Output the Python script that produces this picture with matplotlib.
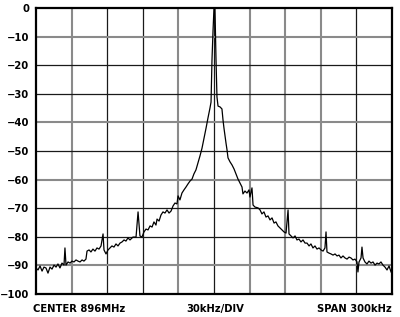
import matplotlib
matplotlib.use("Agg")
import matplotlib.pyplot as plt

# spectrum trace: offset from center (kHz), level (dB)
freq_khz = [
    -150.0, -148.3, -146.6, -144.9, -143.3, -141.6, -139.9, -138.2, -136.5, -134.8,
    -133.1, -131.5, -129.8, -128.1, -126.4, -125.6, -124.7, -123.0, -121.3, -119.7,
    -118.0, -116.3, -114.6, -112.9, -111.2, -109.6, -107.9, -107.0, -105.3, -103.7,
    -102.0, -100.3, -98.6, -96.9, -95.2, -93.5, -92.7, -91.0, -89.3, -87.6,
    -86.0, -84.3, -82.6, -80.9, -79.2, -77.5, -75.8, -74.2, -72.5, -70.8,
    -68.3, -65.7, -64.0, -62.4, -60.7, -59.0, -57.3, -55.6, -53.9, -52.2,
    -50.6, -48.9, -48.0, -46.3, -44.7, -43.0, -41.3, -39.6, -37.9, -36.2,
    -34.5, -32.9, -31.2, -30.3, -28.7, -27.0, -25.3, -23.6, -21.9, -20.2,
    -18.5, -16.9, -15.2, -13.5, -11.8, -10.1, -8.4, -6.7, -5.1, -3.4,
    -2.5, -1.7, -0.8, 0.0, 0.8, 1.7, 2.5, 3.4, 5.1, 6.7,
    7.6, 8.4, 9.3, 10.1, 11.0, 11.8, 13.5, 15.2, 16.9, 18.5,
    20.2, 21.9, 23.6, 24.4, 26.1, 27.8, 29.5, 30.3, 32.0, 32.9,
    34.5, 37.1, 38.8, 40.4, 42.1, 43.8, 45.5, 47.2, 48.9, 50.6,
    52.2, 53.9, 55.6, 57.3, 59.0, 60.7, 62.4, 63.2, 64.9, 66.6,
    68.3, 69.9, 71.6, 73.3, 75.0, 76.7, 78.4, 80.1, 81.7, 83.4,
    85.1, 86.8, 88.5, 90.2, 91.9, 93.5, 94.4, 95.2, 96.9, 98.6,
    100.3, 102.0, 103.7, 105.3, 107.0, 108.7, 110.4, 112.1, 113.8, 115.4,
    117.1, 118.8, 120.5, 121.3, 122.2, 123.9, 124.7, 125.6, 127.2, 128.9,
    130.6, 132.3, 134.0, 135.7, 137.4, 139.0, 140.7, 142.4, 144.1, 145.8,
    147.5, 149.2,
]
level_db = [
    -90.9, -91.6, -90.2, -92.0, -90.6, -90.9, -92.7, -90.6, -91.3, -89.9,
    -90.6, -89.5, -90.9, -89.2, -89.9, -83.9, -89.9, -88.8, -89.2, -88.5,
    -88.8, -88.1, -88.5, -88.8, -88.1, -88.5, -87.8, -85.0, -84.6, -85.3,
    -84.3, -85.0, -83.9, -84.3, -83.2, -79.0, -84.6, -86.0, -84.6, -83.9,
    -83.2, -83.6, -82.5, -83.2, -82.2, -81.8, -81.1, -81.5, -80.4, -81.1,
    -80.1, -80.1, -71.3, -79.7, -80.1, -78.3, -77.3, -77.6, -76.2, -76.6,
    -74.8, -75.9, -73.8, -74.5, -72.4, -71.3, -71.7, -70.6, -71.7, -71.0,
    -69.2, -68.2, -68.5, -65.7, -67.1, -64.7, -63.6, -62.6, -61.5, -60.5,
    -59.8, -58.0, -56.6, -54.2, -51.7, -49.0, -45.5, -42.0, -38.5, -35.0,
    -32.9, -18.2, -7.7, 0.0, 0.0, -18.2, -31.1, -34.3, -34.6, -35.3,
    -39.2, -42.0, -44.8, -47.2, -49.7, -52.4, -53.8, -54.9, -56.3, -58.0,
    -59.8, -61.2, -62.6, -65.0, -64.0, -64.7, -63.6, -66.1, -62.9, -68.9,
    -69.6, -69.9, -70.6, -72.0, -71.3, -73.1, -72.7, -74.1, -73.4, -75.2,
    -74.8, -76.2, -76.9, -77.6, -78.3, -78.7, -70.6, -79.0, -79.7, -80.4,
    -79.7, -81.1, -80.8, -81.8, -81.1, -82.2, -82.2, -83.2, -82.5, -83.9,
    -83.2, -84.3, -83.9, -84.6, -85.0, -83.9, -78.3, -85.3, -85.7, -86.0,
    -86.4, -86.0, -86.7, -86.4, -87.4, -86.7, -87.4, -87.8, -87.1, -87.4,
    -88.1, -87.8, -88.8, -92.3, -88.8, -87.4, -83.6, -87.4, -88.8, -89.5,
    -88.5, -89.2, -88.8, -89.9, -89.2, -89.5, -88.8, -89.9, -90.6, -91.6,
    -90.2, -92.3,
]

y_ticks = [0, -10, -20, -30, -40, -50, -60, -70, -80, -90, -100]
x_div = [-120, -90, -60, -30, 0, 30, 60, 90, 120]
x_div_gray = [True, False, False, True, False, True, True, True, False]
y_div = [-10, -20, -30, -40, -50, -60, -70, -80, -90]
y_div_gray = [True, False, False, True, False, True, False, False, True]

plt.rcParams['font.family'] = ['DejaVu Sans']
plt.rcParams['font.weight'] = 'bold'

fig = plt.figure(figsize=(4.0, 3.17), dpi=100)
ax = fig.add_axes([0.09, 0.0726, 0.89, 0.9022])

for x, g in zip(x_div, x_div_gray):
    if g:
        ax.axvline(x, color='#8a8a8a', lw=1.5, zorder=1)
    else:
        ax.axvline(x, color='#1a1a1a', lw=0.9, zorder=1)
for y, g in zip(y_div, y_div_gray):
    if g:
        ax.axhline(y, color='#8a8a8a', lw=1.5, zorder=1)
    else:
        ax.axhline(y, color='#1a1a1a', lw=0.9, zorder=1)

ax.plot(freq_khz, level_db, color='black', lw=0.9, zorder=3)

ax.set_xlim(-150, 150)
ax.set_ylim(-100, 0)
ax.set_xticks([])
ax.set_yticks(y_ticks)
ax.set_yticklabels([str(v).replace('-', '\u2212') for v in y_ticks],
                   fontsize=7.2, fontweight='bold')
ax.tick_params(axis='y', length=0, pad=5)
for s in ax.spines.values():
    s.set_linewidth(1.6)
    s.set_color('black')

fig.text(33 / 400, 1 - 309 / 317, 'CENTER 896MHz', ha='left', va='center',
         fontsize=7.2, fontweight='bold')
fig.text(215 / 400, 1 - 309 / 317, '30kHz/DIV', ha='center', va='center',
         fontsize=7.2, fontweight='bold')
fig.text(392 / 400, 1 - 309 / 317, 'SPAN 300kHz', ha='right', va='center',
         fontsize=7.2, fontweight='bold')

fig.savefig('out.png', dpi=100)
